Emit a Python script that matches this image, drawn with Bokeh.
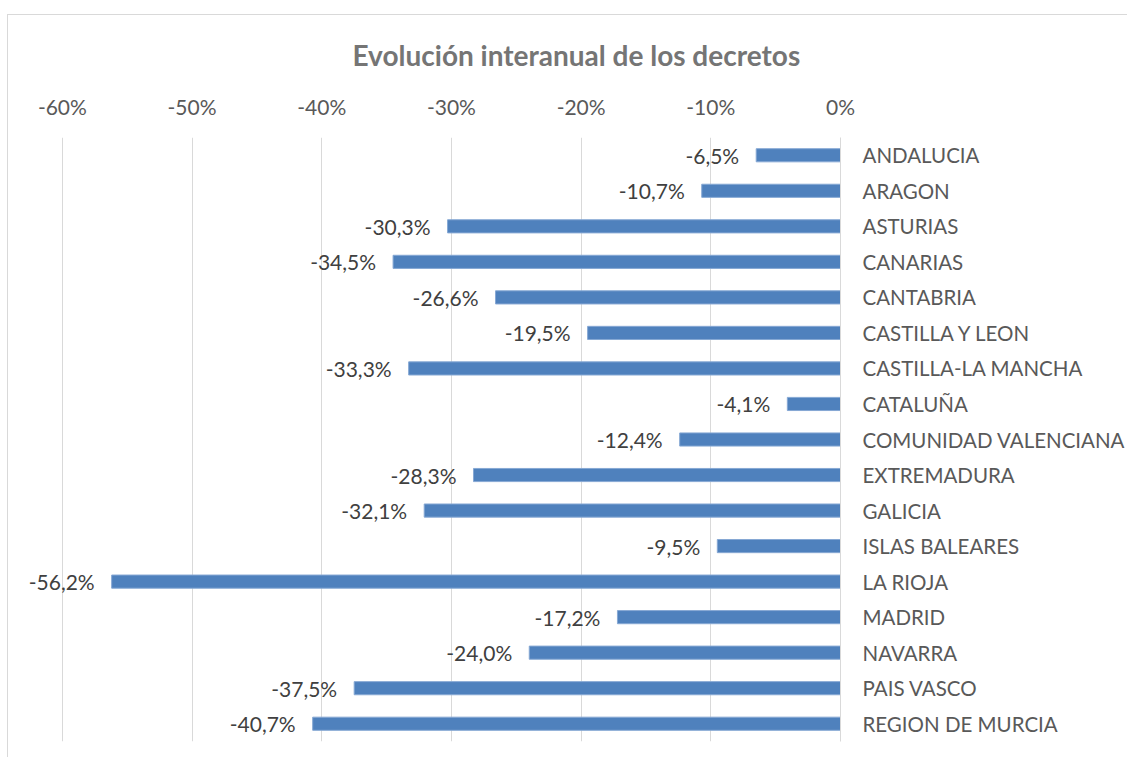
from bokeh.plotting import figure
from bokeh.models import FactorRange, Range1d, FixedTicker, CustomJSTickFormatter, ColumnDataSource
from bokeh.core.properties import value
from bokeh.embed import file_html
from bokeh.resources import INLINE

regions = ["ANDALUCIA", "ARAGON", "ASTURIAS", "CANARIAS", "CANTABRIA", "CASTILLA Y LEON",
           "CASTILLA-LA MANCHA", "CATALUÑA", "COMUNIDAD VALENCIANA", "EXTREMADURA", "GALICIA",
           "ISLAS BALEARES", "LA RIOJA", "MADRID", "NAVARRA", "PAIS VASCO", "REGION DE MURCIA"]
changes = [-6.5, -10.7, -30.3, -34.5, -26.6, -19.5, -33.3, -4.1, -12.4, -28.3, -32.1,
           -9.5, -56.2, -17.2, -24.0, -37.5, -40.7]
tick_values = [-60, -50, -40, -30, -20, -10, 0]

FONT = "Lato"

src = ColumnDataSource(dict(
    region=regions,
    val=[c / 100 for c in changes],
    label=[("%.1f%%" % c).replace(".", ",") for c in changes],
))

p = figure(width=1120, height=743, output_backend="svg", toolbar_location=None,
           y_range=FactorRange(factors=list(reversed(regions))),
           x_range=Range1d(-0.64, 0),
           x_axis_location="above", y_axis_location="right",
           min_border_left=2, min_border_right=280, min_border_bottom=17, min_border_top=122,
           title="Evolución interanual de los decretos")
p.styles = {"margin-top": "14px", "margin-left": "7px",
            "border-left": "1px solid #d9d9d9", "border-top": "1px solid #d9d9d9"}

p.outline_line_color = None
p.title.align = "left"
p.title.text_font = FONT
p.title.text_font_size = "28px"
p.title.text_font_style = "bold"
p.title.text_color = "#757575"
p.title.standoff = 37
p.title.offset = 342

p.hbar(y="region", right="val", left=0, height=0.37, source=src,
       fill_color="#4F81BD", line_color="#86A8D4", line_width=1)

p.text(x="val", y="region", text="label", source=src, x_offset=-17,
       text_align="right", text_baseline="middle", text_font=value(FONT),
       text_font_size="21px", text_color="#404040")

xa = p.xaxis[0]
xa.ticker = FixedTicker(ticks=[t / 100 for t in tick_values])
xa.formatter = CustomJSTickFormatter(code="return Math.round(tick*100) + '%';")
xa.axis_line_color = None
xa.major_tick_line_color = None
xa.minor_tick_line_color = None
xa.major_label_standoff = 13
xa.major_label_text_font = FONT
xa.major_label_text_font_size = "21px"
xa.major_label_text_color = "#595959"

ya = p.yaxis[0]
ya.axis_line_color = "#d9d9d9"
ya.axis_line_width = 1
ya.major_tick_line_color = None
ya.minor_tick_line_color = None
ya.major_label_standoff = 16
ya.major_label_text_font = FONT
ya.major_label_text_font_size = "20.5px"
ya.major_label_text_color = "#595959"

p.xgrid.ticker = FixedTicker(ticks=[t / 100 for t in tick_values])
p.xgrid.grid_line_color = "#d9d9d9"
p.xgrid.grid_line_width = 1
p.ygrid.grid_line_color = None

open("out.html", "w").write(file_html(p, INLINE))
